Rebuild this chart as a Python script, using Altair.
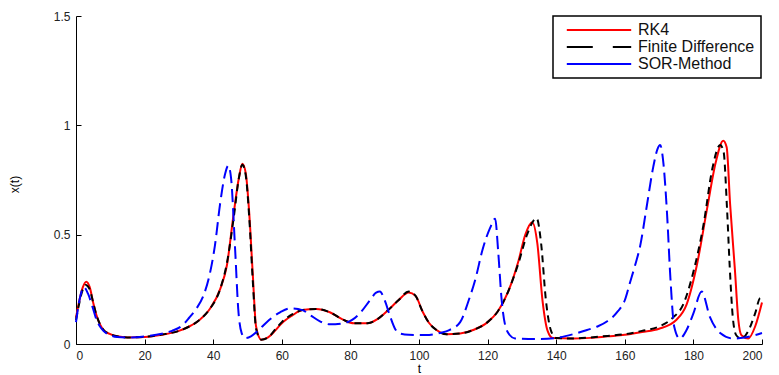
import altair as alt
import pandas as pd

# ---- data ----
t_rk4 = [0, 1, 2, 3, 4, 5, 6, 7, 8, 10, 12, 15, 20, 25, 30, 33, 36, 39, 42, 44, 46, 47.5, 48.5, 49.5, 50.5, 51.5, 52.5, 54,
         56, 58, 60, 63, 66, 70, 74, 78, 81, 85, 88, 91, 94, 97, 99, 101, 103, 105, 108, 112, 116, 120, 123, 126, 129,
         131, 133, 134.5, 136, 137.5, 139, 145, 150, 155, 160, 165, 170, 175, 178, 181, 184, 186.5, 188.7, 189.7,
         190.7, 192.1, 193.1, 194, 196, 198, 200]
x_rk4 = [0.12, 0.2, 0.26, 0.285, 0.26, 0.19, 0.13, 0.09, 0.065, 0.045, 0.035, 0.03, 0.032, 0.042, 0.06, 0.08, 0.11, 0.16,
         0.25, 0.36, 0.6, 0.76, 0.824, 0.78, 0.6, 0.33, 0.08, 0.02, 0.03, 0.06, 0.095, 0.13, 0.155, 0.16, 0.145, 0.11,
         0.095, 0.095, 0.115, 0.155, 0.2, 0.235, 0.22, 0.15, 0.095, 0.065, 0.045, 0.048, 0.065, 0.1, 0.15, 0.24, 0.38,
         0.5, 0.557, 0.46, 0.2, 0.06, 0.027, 0.025, 0.028, 0.035, 0.042, 0.055, 0.07, 0.11, 0.18, 0.36, 0.62, 0.83,
         0.93, 0.9, 0.64, 0.34, 0.11, 0.04, 0.025, 0.08, 0.19]

t_fd = [0, 1, 2, 2.8, 4, 5, 6, 7, 8, 10, 12, 15, 20, 25, 30, 33, 36, 39, 42, 44, 46, 47.5, 48.5, 49.5, 50.5, 51.5, 52.5,
        54, 56, 58, 60, 63, 66, 70, 74, 78, 81, 85, 88, 91, 94, 97, 99, 101, 103, 105, 108, 112, 116, 120, 123, 126,
        129, 131.5, 134.3, 135.6, 137, 138.5, 140, 145, 150, 155, 160, 165, 170, 174, 177, 180, 183, 185.5, 187.8,
        188.8, 189.8, 190.6, 191.5, 192.5, 194, 196, 198, 199.5, 200]
x_fd = [0.11, 0.19, 0.25, 0.27, 0.25, 0.19, 0.13, 0.09, 0.065, 0.045, 0.035, 0.03, 0.033, 0.043, 0.06, 0.08, 0.11, 0.16,
        0.25, 0.37, 0.58, 0.76, 0.82, 0.77, 0.58, 0.3, 0.07, 0.02, 0.03, 0.065, 0.1, 0.135, 0.155, 0.16, 0.145, 0.11,
        0.095, 0.095, 0.115, 0.155, 0.2, 0.24, 0.22, 0.15, 0.095, 0.065, 0.045, 0.048, 0.065, 0.1, 0.15, 0.24, 0.37,
        0.5, 0.575, 0.46, 0.2, 0.06, 0.027, 0.025, 0.03, 0.037, 0.045, 0.06, 0.08, 0.12, 0.18, 0.33, 0.55, 0.8, 0.91,
        0.88, 0.62, 0.35, 0.12, 0.04, 0.025, 0.06, 0.14, 0.21, 0.2]

t_sor = [0, 1, 2.3, 3.5, 5, 6, 7, 8, 10, 12, 15, 20, 25, 28, 31, 33, 35, 37, 39, 40.5, 42, 43.5, 44.4, 45.2, 46.4, 47.3,
         48.3, 49.3, 51, 53, 55.6, 59.5, 62.5, 66, 68.5, 71, 74, 78, 80.5, 83, 85.7, 87.5, 88.6, 90, 91.5, 93, 94.5, 97,
         102, 106, 109, 112, 114.5, 116.5, 118.5, 120.7, 122.2, 123.1, 124.1, 125.1, 126.5, 128, 135, 140, 145, 149,
         152, 155, 158, 160, 161.5, 163, 164.5, 166.4, 168.3, 169.5, 170.3, 171.3, 172.3, 173.3, 174.4, 176, 178, 180,
         182.4, 184.8, 187.8, 191.6, 195, 200]
x_sor = [0.1, 0.2, 0.26, 0.23, 0.16, 0.11, 0.08, 0.06, 0.04, 0.032, 0.03, 0.035, 0.047, 0.06, 0.085, 0.12, 0.16, 0.215,
         0.32, 0.45, 0.64, 0.78, 0.816, 0.76, 0.43, 0.16, 0.05, 0.027, 0.035, 0.06, 0.1, 0.145, 0.163, 0.155, 0.13,
         0.105, 0.09, 0.095, 0.11, 0.145, 0.2, 0.235, 0.24, 0.2, 0.13, 0.07, 0.048, 0.042, 0.041, 0.05, 0.065, 0.1,
         0.2, 0.3, 0.43, 0.53, 0.573, 0.42, 0.2, 0.087, 0.04, 0.025, 0.023, 0.028, 0.045, 0.064, 0.08, 0.105, 0.15,
         0.2, 0.28, 0.36, 0.45, 0.63, 0.81, 0.89, 0.91, 0.82, 0.6, 0.3, 0.08, 0.025, 0.064, 0.14, 0.24, 0.124, 0.05,
         0.025, 0.03, 0.05]

series = ["RK4", "Finite Difference", "SOR-Method"]
colors = ["#ff0000", "#000000", "#0000ff"]
legend_dashes = [[1, 0], [26, 20], [1, 0]]
x_ticks = list(range(0, 201, 20))
y_ticks = [0, 0.5, 1, 1.5]

df = pd.concat([
    pd.DataFrame({"t": t_rk4, "x": x_rk4, "series": series[0]}),
    pd.DataFrame({"t": t_fd, "x": x_fd, "series": series[1]}),
    pd.DataFrame({"t": t_sor, "x": x_sor, "series": series[2]}),
], ignore_index=True)

FONT = "Liberation Sans"
W, H = 686, 328

xscale = alt.Scale(domain=[0, 200], nice=False, zero=False)
yscale = alt.Scale(domain=[0, 1.5], nice=False)

legend = alt.Legend(
    title=None, orient="none", legendX=477, legendY=0, direction="vertical",
    fillColor="white", strokeColor="black", padding=6, rowPadding=1,
    symbolType="M-4.6,0H4.6", symbolSize=196, symbolStrokeWidth=2,
    symbolOffset=32, labelOffset=31,
    labelFont=FONT, labelFontSize=16, labelColor="#111",
)
color = alt.Color("series:N", scale=alt.Scale(domain=series, range=colors), legend=legend)
dash = alt.StrokeDash("series:N", scale=alt.Scale(domain=series, range=legend_dashes), legend=legend)

main_x = alt.Axis(orient="bottom", values=x_ticks, ticks=False, grid=False, title="t",
                  labelFont=FONT, labelFontSize=12, labelColor="#222", labelPadding=6,
                  titleFont=FONT, titleFontSize=12, titleFontWeight="normal", titlePadding=2,
                  domainColor="black", domainWidth=1)
main_y = alt.Axis(orient="left", values=y_ticks, ticks=False, grid=False, title="x(t)", format=".1~f",
                  labelFont=FONT, labelFontSize=12, labelColor="#222", labelPadding=6,
                  titleFont=FONT, titleFontSize=12, titleFontWeight="normal",
                  titleX=-62, titleY=168, titleAngle=-90, titleAlign="center", titleBaseline="middle",
                  domainColor="black", domainWidth=1)
in_x = alt.Axis(orient="top", offset=-H, values=x_ticks, labels=False, domain=False, grid=False,
                title=None, tickSize=5, tickColor="black", tickWidth=1)
in_y = alt.Axis(orient="right", offset=-W, values=y_ticks, labels=False, domain=False, grid=False,
                title=None, tickSize=5, tickColor="black", tickWidth=1)

base = alt.Chart(df)


def layer(name, dash_pattern, xaxis, yaxis):
    mark = base.transform_filter(alt.datum.series == name)
    if dash_pattern:
        m = mark.mark_line(strokeWidth=2, interpolate="monotone", strokeDash=dash_pattern)
    else:
        m = mark.mark_line(strokeWidth=2, interpolate="monotone")
    return m.encode(
        x=alt.X("t:Q", scale=xscale, axis=xaxis),
        y=alt.Y("x:Q", scale=yscale, axis=yaxis),
        color=color,
    )


# an empty layer that only carries the legend (colour + legend dash)
legend_layer = base.transform_filter("datum.t < -1").mark_line(strokeWidth=2).encode(
    x=alt.X("t:Q", scale=xscale, axis=None),
    y=alt.Y("x:Q", scale=yscale, axis=None),
    color=color,
    strokeDash=dash,
)

chart = alt.layer(
    layer("RK4", None, main_x, main_y),
    layer("Finite Difference", [7, 5], None, None),
    layer("SOR-Method", [13, 6], in_x, in_y),
    legend_layer,
).resolve_axis(x="independent", y="independent").properties(
    width=W, height=H, autosize="none",
    padding={"left": 76, "top": 16, "right": 17, "bottom": 31},
    background="white",
).configure_view(stroke=None).configure_legend(strokeWidth=1.5)

chart.save("out.html", embed_options={"renderer": "svg", "actions": False})
